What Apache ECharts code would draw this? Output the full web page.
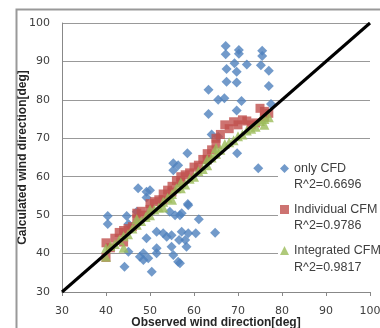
<!DOCTYPE html>
<html><head><meta charset="utf-8">
<script src="https://cdn.jsdelivr.net/npm/echarts@6/dist/echarts.min.js"></script>
<style>html,body{margin:0;padding:0;background:#fff}#c{width:380px;height:328px}</style>
</head><body><div id="c"></div>
<script>
const seriesNames = ['only CFD', 'Individual CFM', 'Integrated CFM'];
const r2Labels = ['R^2=0.6696', 'R^2=0.9786', 'R^2=0.9817'];
const axisTicks = [30, 40, 50, 60, 70, 80, 90, 100];
const onlyCFD = [
  [67.2,94.0],[67.2,91.9],[70.2,93.0],[70.2,92.0],[75.5,92.8],[75.5,91.4],[69.2,89.5],[67.4,88.0],
  [72.0,89.2],[69.7,87.3],[75.2,89.0],[77.0,87.6],[67.4,84.7],[69.7,84.5],[77.0,83.6],[63.3,82.6],
  [65.5,80.0],[66.9,80.4],[70.8,79.7],[69.7,77.2],[63.3,76.3],[77.5,78.9],
  [65.5,70.4],[64.0,71.0],[58.5,66.1],[69.8,66.1],[55.3,63.5],[56.4,63.0],[55.3,61.7],[74.6,62.2],
  [50.0,56.5],[58.7,52.6],[47.3,57.0],[49.2,56.1],[49.2,54.6],
  [40.4,49.8],[40.4,47.7],[44.7,49.8],[45.1,47.7],[47.0,50.9],[49.2,44.0],[53.0,45.3],[54.9,44.8],
  [51.5,41.4],[51.5,40.1],[48.5,40.1],[48.5,38.3],[49.6,38.8],[44.2,36.6],[50.4,35.3],[56.4,37.9],
  [55.7,50.0],[56.8,50.0],[45.1,40.5],[51.5,45.7],[53.8,44.4],[57.2,45.7],[54.9,41.8],[55.3,39.6],
  [56.8,37.5],[58.0,43.5],[54.5,50.9],[57.2,50.5],[58.6,52.9],[61.1,48.9],[58.7,45.3],[60.4,45.3],
  [64.8,45.4],[56.6,43.5],[58.3,41.8],[47.7,39.2]
];
const individualCFM = [
  [40,42.8],[40,39],[41,41.5],[42,44],[43,45.5],[44,46],[44,43],[45,46.5],[46,47],[47,49],[47,50.5],
  [48,51],[49,50],[50,53],[50,51.5],[51,53.5],[52,54],[53,54],[53,55.5],[54,56.5],[55,57.5],[55,56],
  [56,59],[57,58.5],[57,60],[58,60.5],[59,61],[60,62.5],[61,63],[62,64.5],[63,64.5],[63,66],[64,67],
  [65,68.5],[65,70],[66,71],[67,73.5],[68,72.5],[69,74.3],[70,73.5],[71,74.8],[72,74.5],[73,73.5],
  [74,74],[75,77.8],[76,77],[76,75.5],[77,76.5]
];
const integratedCFM = [
  [40,41.4],[40,39.2],[41,42],[42,42.5],[43,43.5],[44,44.5],[44,41.5],[45,45],[46,46.5],[47,47.5],
  [47,49],[48,48.5],[49,49.5],[50,50],[50,51.5],[51,51.5],[52,52],[53,53.5],[53,52],[54,54.5],
  [55,55.5],[55,54],[56,57],[57,57],[57,58.5],[58,58],[59,59.5],[60,60],[61,61.5],[62,62],[63,63],
  [63,64.5],[64,65],[65,66],[65,67.5],[66,67],[67,68.5],[68,69],[69,69.5],[70,70.5],[71,71],[72,72],
  [73,72.5],[74,73],[75,74.5],[76,75],[76,73.5],[77,75.5]
];
const refLine = [[30,30],[100,100]];

const chart = echarts.init(document.getElementById('c'), null, {renderer:'canvas'});
const txt = '#404040';
const font = 'DejaVu Sans';
const lfont = 'Liberation Sans';
const colors = ['#4F81BD', '#C0504D', '#9BBB59'];
chart.setOption({
  animation: false,
  backgroundColor: '#fff',
  grid: {left: 62, right: 10, top: 23, bottom: 36, containLabel: false, outerBoundsMode: 'none'},
  xAxis: {
    type: 'value', min: axisTicks[0], max: axisTicks[axisTicks.length-1], interval: 10,
    name: 'Observed wind direction[deg]', nameLocation: 'middle', nameGap: 25, nameMoveOverlap: false,
    nameTextStyle: {fontFamily: lfont, fontWeight: 'bold', fontSize: 12, color: '#262626'},
    axisLine: {lineStyle: {color: '#888', width: 1}},
    axisTick: {show: true, length: 4, lineStyle: {color: '#888'}},
    axisLabel: {color: txt, fontFamily: font, fontSize: 11, margin: 14},
    splitLine: {show: false}
  },
  yAxis: {
    type: 'value', min: axisTicks[0], max: axisTicks[axisTicks.length-1], interval: 10,
    name: 'Calculated wind direction[deg]', nameLocation: 'middle', nameGap: 33, nameMoveOverlap: false,
    nameTextStyle: {fontFamily: lfont, fontWeight: 'bold', fontSize: 12, color: '#262626'},
    axisLine: {show: true, lineStyle: {color: '#888', width: 1}},
    axisTick: {show: false},
    axisLabel: {color: txt, fontFamily: font, fontSize: 11, margin: 12},
    splitLine: {show: true, lineStyle: {color: '#999', width: 1}}
  },
  legend: {
    orient: 'vertical', left: 278, top: 156, itemWidth: 9, itemHeight: 9, itemGap: 28,
    padding: [6, 20, 30, 2], backgroundColor: '#fff',
    textStyle: {fontFamily: lfont, fontSize: 12.5, color: txt},
    data: [
      {name: seriesNames[0], icon: 'diamond'},
      {name: seriesNames[1], icon: 'rect'},
      {name: seriesNames[2], icon: 'triangle'}
    ]
  },
  graphic: [
    {type: 'rect', left: 14, top: 7, shape: {width: 380, height: 340}, style: {fill: 'none', stroke: '#999', lineWidth: 2}, silent: true, z: 100},
    {type: 'text', left: 294, top: 178, style: {text: r2Labels[0], font: '12.5px "Liberation Sans"', fill: txt}, z: 100},
    {type: 'text', left: 294, top: 219, style: {text: r2Labels[1], font: '12.5px "Liberation Sans"', fill: txt}, z: 100},
    {type: 'text', left: 294, top: 261, style: {text: r2Labels[2], font: '12.5px "Liberation Sans"', fill: txt}, z: 100}
  ],
  series: [
    {name: seriesNames[0], type: 'scatter', symbol: 'diamond', symbolSize: 10, data: onlyCFD, itemStyle: {color: colors[0]}, z: 2},
    {name: seriesNames[1], type: 'scatter', symbol: 'rect', symbolSize: 9, data: individualCFM, itemStyle: {color: colors[1]}, z: 3},
    {name: seriesNames[2], type: 'scatter', symbol: 'triangle', symbolSize: 10, data: integratedCFM, itemStyle: {color: colors[2]}, z: 4},
    {type: 'line', data: refLine, symbol: 'none', lineStyle: {color: '#000', width: 3}, z: 5, silent: true}
  ]
});
</script></body></html>
